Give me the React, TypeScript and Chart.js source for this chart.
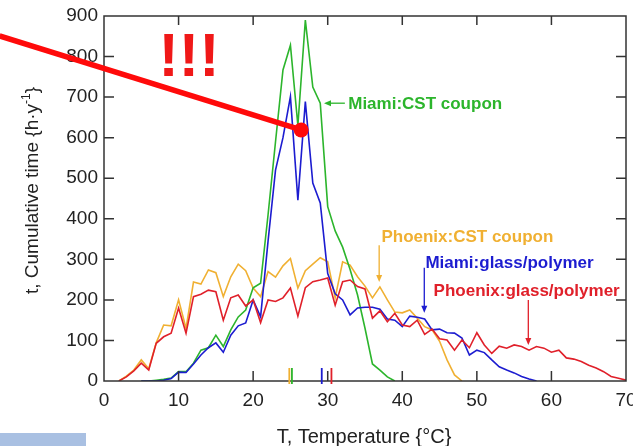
import React, { useEffect, useRef } from "react";
import { Chart, registerables } from "chart.js";

Chart.register(...registerables);

// Temperature grid (°C)
const temps = [
  2, 3, 4, 5, 6, 7, 8, 9, 10, 11,
  12, 13, 14, 15, 16, 17, 18, 19, 20, 21,
  22, 23, 24, 25, 26, 27, 28, 29, 30, 31,
  32, 33, 34, 35, 36, 37, 38, 39, 40, 41,
  42, 43, 44, 45, 46, 47, 48, 49, 50, 51,
  52, 53, 54, 55, 56, 57, 58, 59, 60, 61,
  62, 63, 64, 65, 66, 67, 68, 69, 70,
];

// Cumulative time (h/y)
const phoenixGlass = [
  0, 10, 25, 44, 27, 93, 109, 118, 180, 118,
  208, 214, 224, 220, 150, 205, 212, 185, 200, 144,
  200, 196, 205, 229, 160, 230, 245, 249, 254, 187,
  245, 249, 233, 227, 155, 173, 146, 167, 138, 134,
  150, 115, 128, 104, 101, 76, 101, 82, 119, 89,
  68, 86, 81, 89, 85, 76, 85, 81, 71, 76,
  57, 54, 48, 39, 32, 23, 11, 7, 2,
];

const phoenixCST = [
  0, 12, 27, 52, 30, 94, 138, 136, 200, 130,
  244, 239, 274, 267, 208, 257, 288, 272, 229, 208,
  270, 256, 284, 302, 229, 272, 288, 304, 294, 205,
  294, 286, 257, 234, 205, 232, 200, 170, 168, 175,
  155, 134, 126, 98, 52, 15, 0, null, null, null,
  null, null, null, null, null, null, null, null, null, null,
  null, null, null, null, null, null, null, null, null,
];

const miamiCST = [
  null, null, null, 0, 0, 2, 4, 7, 23, 23,
  44, 76, 82, 113, 85, 126, 158, 175, 230, 241,
  410, 590, 767, 828, 630, 890, 725, 685, 430, 370,
  330, 275, 212, 130, 42, 27, 10, 0, null, null,
  null, null, null, null, null, null, null, null, null, null,
  null, null, null, null, null, null, null, null, null, null,
  null, null, null, null, null, null, null, null, null,
];

const miamiGlass = [
  null, null, null, 0, 0, 0, 2, 6, 22, 21,
  42, 64, 82, 94, 71, 113, 136, 143, 200, 158,
  345, 520, 600, 701, 446, 689, 488, 439, 265, 215,
  200, 163, 180, 182, 182, 177, 153, 150, 134, 160,
  157, 153, 126, 128, 119, 118, 106, 64, 76, 70,
  52, 35, 27, 20, 11, 5, 0, null, null, null,
  null, null, null, null, null, null, null, null, null,
];

// Mean temperature markers (rug ticks at the bottom)
const rugTemps = [24.85, 25.2, 29.2, 30.5];

// Series labels
const labels = ["Miami:CST coupon", "Phoenix:CST coupon", "Miami:glass/polymer", "Phoenix:glass/polymer"];

const xTickValues = [0, 10, 20, 30, 40, 50, 60, 70];
const yTickValues = [0, 100, 200, 300, 400, 500, 600, 700, 800, 900];

// colours
const C_GREEN = "#2cb52c";
const C_ORANGE = "#f0b032";
const C_BLUE = "#1c1cd0";
const C_RED = "#e0202a";

// annotation anchors in data coordinates [T, value]
const labelAnchors = [
  [32.75, 670],
  [37.2, 343],
  [43.1, 278],
  [44.2, 210],
];
const arrowFrom = [
  [32.3, 685],
  [36.9, 335],
  [42.95, 279],
  [56.9, 200],
];
const arrowTo = [
  [29.5, 685],
  [36.9, 244],
  [42.95, 168],
  [56.9, 89],
];
const labelColors = [C_GREEN, C_ORANGE, C_BLUE, C_RED];
const rugColors = [C_ORANGE, C_GREEN, C_BLUE, C_RED];

const pointerFrom = [-14, 851];
const pointerTo = [26.44, 619];
const bangAnchor = [11.4, 751];

const FONT = '"Liberation Sans", Arial, Helvetica, sans-serif';

function toXY(vals: (number | null)[]) {
  const out: { x: number; y: number }[] = [];
  vals.forEach((v, i) => {
    if (v !== null && v !== undefined) out.push({ x: temps[i], y: v });
  });
  return out;
}

function arrow(ctx: CanvasRenderingContext2D, x1: number, y1: number, x2: number, y2: number, color: string) {
  const ang = Math.atan2(y2 - y1, x2 - x1);
  const hl = 7;
  const hw = 3;
  ctx.strokeStyle = color;
  ctx.fillStyle = color;
  ctx.lineWidth = 1.3;
  ctx.beginPath();
  ctx.moveTo(x1, y1);
  ctx.lineTo(x2 - Math.cos(ang) * hl * 0.8, y2 - Math.sin(ang) * hl * 0.8);
  ctx.stroke();
  ctx.beginPath();
  ctx.moveTo(x2, y2);
  ctx.lineTo(x2 - Math.cos(ang) * hl - Math.sin(ang) * hw, y2 - Math.sin(ang) * hl + Math.cos(ang) * hw);
  ctx.lineTo(x2 - Math.cos(ang) * hl + Math.sin(ang) * hw, y2 - Math.sin(ang) * hl - Math.cos(ang) * hw);
  ctx.closePath();
  ctx.fill();
}

const decoPlugin = {
  id: "deco",
  afterDraw(chart: any) {
    const { ctx, chartArea: a, scales } = chart;
    const xs = scales.x;
    const ys = scales.y;
    ctx.save();

    // inward ticks
    ctx.strokeStyle = "#333";
    ctx.lineWidth = 1.5;
    ctx.beginPath();
    xTickValues.forEach((t) => {
      if (t === xs.min || t === xs.max) return;
      const px = xs.getPixelForValue(t);
      ctx.moveTo(px, a.bottom);
      ctx.lineTo(px, a.bottom - 10);
      ctx.moveTo(px, a.top);
      ctx.lineTo(px, a.top + 9);
    });
    yTickValues.forEach((v) => {
      if (v === ys.min || v === ys.max) return;
      const py = ys.getPixelForValue(v);
      ctx.moveTo(a.left, py);
      ctx.lineTo(a.left + 10, py);
      ctx.moveTo(a.right, py);
      ctx.lineTo(a.right - 10, py);
    });
    ctx.stroke();

    // frame
    ctx.strokeRect(a.left, a.top, a.right - a.left, a.bottom - a.top);

    // rug ticks
    ctx.lineWidth = 1.8;
    rugTemps.forEach((t, i) => {
      const px = xs.getPixelForValue(t);
      ctx.strokeStyle = rugColors[i];
      ctx.beginPath();
      ctx.moveTo(px, ys.getPixelForValue(32));
      ctx.lineTo(px, ys.getPixelForValue(0) + 3);
      ctx.stroke();
    });

    // annotation labels + arrows
    ctx.font = `bold 17px ${FONT}`;
    ctx.textAlign = "left";
    ctx.textBaseline = "alphabetic";
    labels.forEach((lab, i) => {
      ctx.fillStyle = labelColors[i];
      ctx.fillText(lab, xs.getPixelForValue(labelAnchors[i][0]), ys.getPixelForValue(labelAnchors[i][1]));
      arrow(
        ctx,
        xs.getPixelForValue(arrowFrom[i][0]),
        ys.getPixelForValue(arrowFrom[i][1]),
        xs.getPixelForValue(arrowTo[i][0]),
        ys.getPixelForValue(arrowTo[i][1]),
        labelColors[i]
      );
    });

    // big red pointer
    const p1x = xs.getPixelForValue(pointerFrom[0]);
    const p1y = ys.getPixelForValue(pointerFrom[1]);
    const p2x = xs.getPixelForValue(pointerTo[0]);
    const p2y = ys.getPixelForValue(pointerTo[1]);
    ctx.strokeStyle = "#ff0a0a";
    ctx.fillStyle = "#ff0a0a";
    ctx.lineWidth = 5.5;
    ctx.lineCap = "butt";
    ctx.beginPath();
    ctx.moveTo(p1x, p1y);
    ctx.lineTo(p2x, p2y);
    ctx.stroke();
    ctx.beginPath();
    ctx.arc(p2x, p2y, 7.5, 0, Math.PI * 2);
    ctx.fill();

    // !!!
    ctx.font = `bold 61px ${FONT}`;
    ctx.textAlign = "center";
    ctx.fillStyle = "#f01818";
    ctx.fillText("!!!", xs.getPixelForValue(bangAnchor[0]), ys.getPixelForValue(bangAnchor[1]));

    // axis titles
    ctx.fillStyle = "#222";
    ctx.textAlign = "center";
    ctx.font = `20px ${FONT}`;
    ctx.fillText("T, Temperature {°C}", 364, 442.5);

    ctx.save();
    ctx.translate(37.5, 190.5);
    ctx.rotate(-Math.PI / 2);
    const f1 = `19px ${FONT}`;
    const f2 = `12px ${FONT}`;
    const s1 = "t, Cumulative time {h·y";
    const s2 = "-1";
    const s3 = "}";
    ctx.font = f1;
    const w1 = ctx.measureText(s1).width;
    const w3 = ctx.measureText(s3).width;
    ctx.font = f2;
    const w2 = ctx.measureText(s2).width;
    const x0 = -(w1 + w2 + w3) / 2;
    ctx.textAlign = "left";
    ctx.font = f1;
    ctx.fillText(s1, x0, 0);
    ctx.font = f2;
    ctx.fillText(s2, x0 + w1, -8);
    ctx.font = f1;
    ctx.fillText(s3, x0 + w1 + w2, 0);
    ctx.restore();

    ctx.restore();
  },
};

export default function App() {
  const ref = useRef<HTMLCanvasElement | null>(null);

  useEffect(() => {
    document.body.style.margin = "0";
    const canvas = ref.current;
    if (!canvas) return;
    const lineDs = (label: string, vals: (number | null)[], color: string) => ({
      label,
      data: toXY(vals),
      borderColor: color,
      backgroundColor: color,
      borderWidth: 1.6,
      pointRadius: 0,
      tension: 0,
      fill: false,
    });
    const chart = new Chart(canvas, {
      type: "line",
      data: {
        datasets: [
          lineDs(labels[3], phoenixGlass, C_RED),
          lineDs(labels[2], miamiGlass, C_BLUE),
          lineDs(labels[0], miamiCST, C_GREEN),
          lineDs(labels[1], phoenixCST, C_ORANGE),
        ],
      },
      options: {
        animation: false,
        responsive: false,
        devicePixelRatio: 1,
        layout: { padding: { top: 16, right: 7, left: 0, bottom: 0 } },
        plugins: {
          legend: { display: false },
          tooltip: { enabled: false },
          title: { display: false },
        },
        scales: {
          x: {
            type: "linear",
            min: 0,
            max: 70,
            grid: { display: false, drawTicks: false },
            border: { display: false },
            ticks: {
              stepSize: 10,
              autoSkip: false,
              maxRotation: 0,
              padding: 8,
              color: "#222",
              font: { size: 19, family: FONT },
            },
            afterFit: (s: any) => {
              s.height = 65;
              s.paddingLeft = 0;
              s.paddingRight = 0;
            },
          },
          y: {
            type: "linear",
            min: 0,
            max: 900,
            grid: { display: false, drawTicks: false },
            border: { display: false },
            ticks: {
              stepSize: 100,
              autoSkip: false,
              padding: 6,
              color: "#222",
              font: { size: 19, family: FONT },
            },
            afterFit: (s: any) => {
              s.width = 104;
              s.paddingTop = 0;
              s.paddingBottom = 0;
            },
          },
        },
      },
      plugins: [decoPlugin],
    } as any);
    return () => chart.destroy();
  }, []);

  return (
    <div style={{ position: "absolute", left: 0, top: 0, width: 633, height: 446, background: "#fff", overflow: "hidden" }}>
      <canvas ref={ref} width={633} height={446} style={{ display: "block", width: 633, height: 446 }} />
      <div style={{ position: "absolute", left: 0, top: 433, width: 86, height: 13, background: "#a9c0e2" }} />
    </div>
  );
}
